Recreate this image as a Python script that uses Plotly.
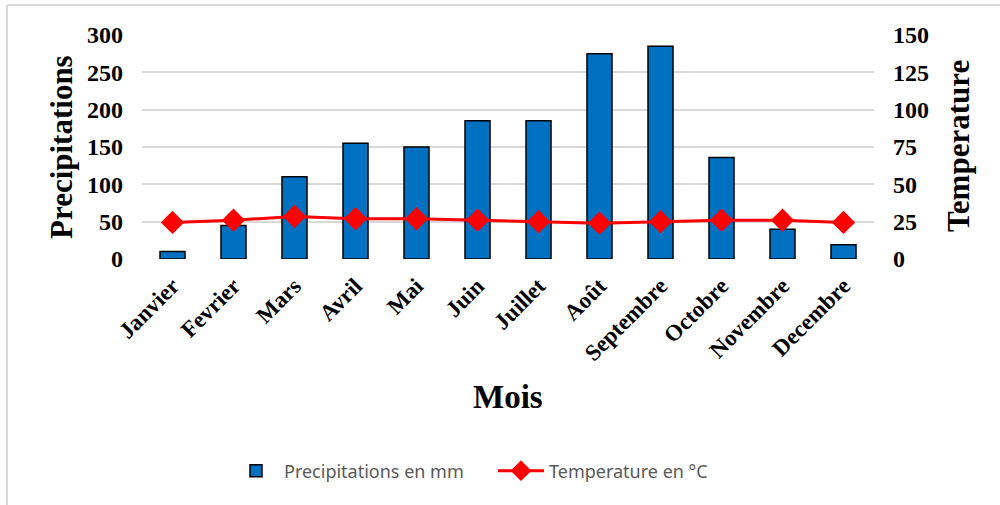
import plotly.graph_objects as go

mois = ["Janvier", "Fevrier", "Mars", "Avril", "Mai", "Juin", "Juillet",
        "Août", "Septembre", "Octobre", "Novembre", "Decembre"]
precipitations = [10, 45, 110, 155, 150, 185, 185, 275, 285, 136, 40, 19]
temperature = [24.5, 26, 28.5, 27, 27, 26, 25, 24, 25, 26, 26, 24.5]
y1_ticks = [0, 50, 100, 150, 200, 250, 300]
y2_ticks = [0, 25, 50, 75, 100, 125, 150]

# plot area in pixels
L, R, T, B = 142, 874, 35, 259
W, H = 1000, 505
pw, ph = R - L, B - T

def px(x):
    return (x - L) / pw

def py(y):
    return (B - y) / ph

serif = "Liberation Serif, Times New Roman, serif"

fig = go.Figure()
fig.add_trace(go.Bar(
    x=mois, y=precipitations, name="Precipitations en mm",
    marker=dict(color="#0070C0", line=dict(color="black", width=1.5)),
    yaxis="y",
))
fig.add_trace(go.Scatter(
    x=mois, y=temperature, name="Temperature en °C", mode="lines+markers",
    line=dict(color="#FF0000", width=3),
    marker=dict(symbol="diamond", size=18, color="#FF0000"),
    yaxis="y2",
))

fig.update_layout(
    width=W, height=H,
    margin=dict(l=L, r=W - R, t=T, b=H - B, autoexpand=False),
    paper_bgcolor="white", plot_bgcolor="white",
    bargap=0.59,
    showlegend=True,
    legend=dict(orientation="h", x=px(228), xanchor="left", y=py(471), yanchor="middle",
                font=dict(family="Noto Sans, sans-serif", size=18, color="#595959"),
                itemwidth=46, tracegroupgap=0, entrywidth=204, entrywidthmode="pixels"),
    xaxis=dict(tickangle=-45, showgrid=False, showline=False, ticks="",
               range=[-0.5, len(mois) - 0.5], automargin=False, ticklabelstandoff=8,
               tickfont=dict(family=serif, size=23, color="black", weight="bold")),
    yaxis=dict(range=[0, 300], tickvals=y1_ticks, showgrid=True, gridcolor="#D9D9D9",
               gridwidth=1.5, zeroline=False, showline=False, ticks="",
               ticklabelstandoff=18, automargin=False,
               tickfont=dict(family=serif, size=24, color="black", weight="bold")),
    yaxis2=dict(range=[0, 150], tickvals=y2_ticks, overlaying="y", side="right",
                showgrid=False, zeroline=False, showline=False, ticks="",
                ticklabelstandoff=18, automargin=False,
                tickfont=dict(family=serif, size=24, color="black", weight="bold")),
    annotations=[
        dict(text="<b>Precipitations</b>", x=px(61), y=py(147), xref="paper", yref="paper",
             textangle=-90, showarrow=False, xanchor="center", yanchor="middle",
             font=dict(family=serif, size=31, color="black")),
        dict(text="<b>Temperature</b>", x=px(958), y=py(146), xref="paper", yref="paper",
             textangle=-90, showarrow=False, xanchor="center", yanchor="middle",
             font=dict(family=serif, size=31, color="black")),
        dict(text="<b>Mois</b>", x=px(508), y=py(397), xref="paper", yref="paper",
             showarrow=False, xanchor="center", yanchor="middle",
             font=dict(family=serif, size=33, color="black")),
    ],
    shapes=[
        dict(type="line", xref="paper", yref="paper", x0=px(7), x1=px(1000),
             y0=py(5), y1=py(5), line=dict(color="#D9D9D9", width=2)),
        dict(type="line", xref="paper", yref="paper", x0=px(7), x1=px(7),
             y0=py(5), y1=py(505), line=dict(color="#D9D9D9", width=2)),
    ],
)

fig.write_html("out.html")
